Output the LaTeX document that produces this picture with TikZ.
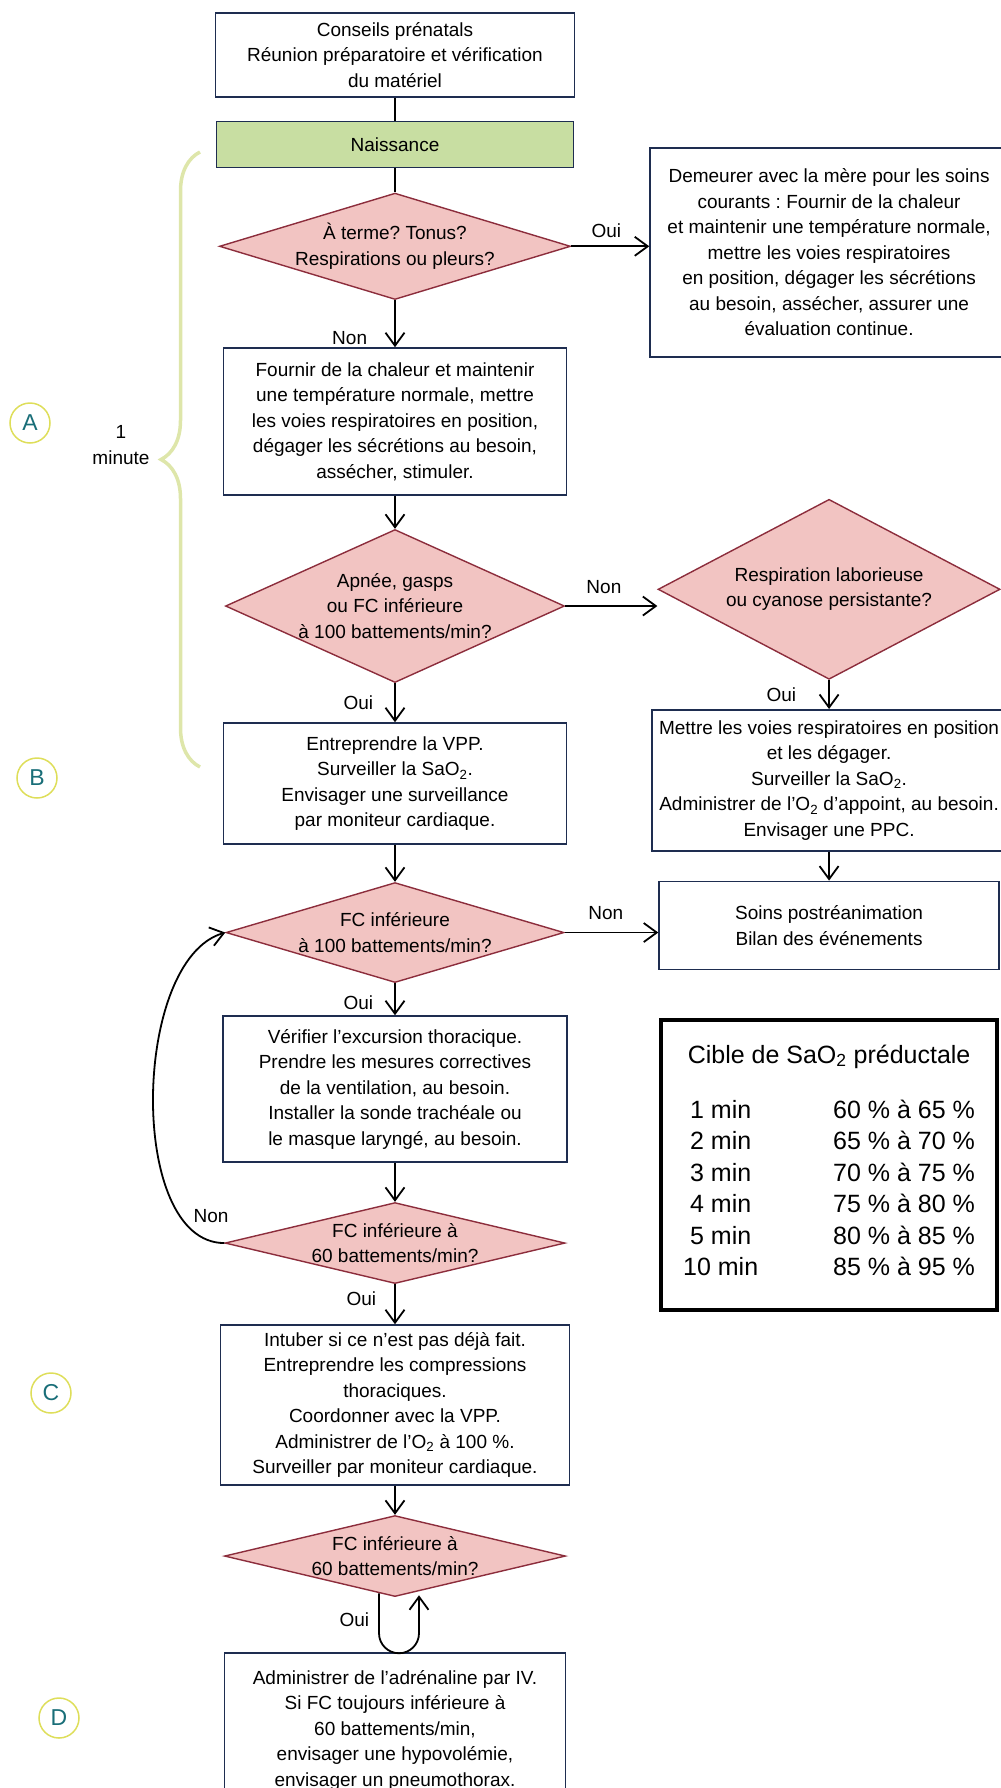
\documentclass[tikz,border=0pt]{standalone}
\usepackage{fontspec}
\setmainfont{Liberation Sans}
\usetikzlibrary{shapes.geometric, positioning, arrows.meta, decorations.pathreplacing}
\frenchspacing

\definecolor{boxline}{RGB}{30,45,80}
\definecolor{birthgreen}{RGB}{200,222,162}
\definecolor{qpink}{RGB}{242,196,194}
\definecolor{qline}{RGB}{140,45,60}
\definecolor{markring}{RGB}{222,222,90}
\definecolor{markteal}{RGB}{25,110,120}
\definecolor{bracegreen}{RGB}{222,230,170}

\begin{document}
\begin{tikzpicture}[
    x=1pt, y=1pt,
    txt/.style={font=\fontsize{19}{25.5}\selectfont},
    box/.style={txt, rectangle, draw=boxline, line width=1.6pt, align=center, inner sep=4pt, fill=white},
    decision/.style={txt, diamond, draw=qline, fill=qpink, line width=1.4pt, align=center, inner sep=0pt},
    arrow/.style={-{Straight Barb[length=13pt, width=19pt]}, line width=1.8pt},
    line/.style={line width=1.8pt},
    label_txt/.style={txt, inner sep=2pt},
    letter_mark/.style={circle, draw=markring, line width=1.5pt, minimum size=40pt, inner sep=0pt, text=markteal, font=\fontsize{23}{23}\selectfont},
    brace_line/.style={draw=bracegreen, line width=3.5pt, decorate, decoration={brace, amplitude=39pt}},
    table_box/.style={rectangle, draw=black, line width=3.5pt, align=center, font=\fontsize{25}{31.5}\selectfont},
]
\useasboundingbox (0,0) rectangle (1001,-1788);

%% NODES
    % main column
    \node[box, minimum width=359pt, minimum height=84pt] (prenatal) at (395,-55) {Conseils prénatals\\Réunion préparatoire et vérification\\du matériel};
    \node[box, fill=birthgreen, minimum width=357pt, minimum height=46pt, below=23pt of prenatal] (birth) {Naissance};
    \node[decision, minimum width=339pt, minimum height=103pt, aspect=3.3, below=24pt of birth] (term_q) {À terme? Tonus?\\Respirations ou pleurs?};
    \node[box, minimum width=343pt, minimum height=147pt, below=47pt of term_q] (warm_box) {Fournir de la chaleur et maintenir\\une température normale, mettre\\les voies respiratoires en position,\\dégager les sécrétions au besoin,\\assécher, stimuler.};
    \node[decision, minimum width=339pt, minimum height=153pt, aspect=2.2, below=33pt of warm_box] (apnea_q) {Apnée, gasps\\ou FC inférieure\\à 100 battements/min?};
    \node[box, minimum width=343pt, minimum height=121pt, below=39pt of apnea_q] (ppv_box) {Entreprendre la VPP.\\Surveiller la SaO\textsubscript{2}.\\Envisager une surveillance\\par moniteur cardiaque.};
    \node[decision, minimum width=338pt, minimum height=100pt, aspect=3.38, below=37pt of ppv_box] (hr100_q) {FC inférieure\\à 100 battements/min?};
    \node[box, minimum width=344pt, minimum height=146pt, below=32pt of hr100_q] (vent_box) {Vérifier l’excursion thoracique.\\Prendre les mesures correctives\\de la ventilation, au besoin.\\Installer la sonde trachéale ou\\le masque laryngé, au besoin.};
    \node[decision, minimum width=340pt, minimum height=81pt, aspect=4.2, below=39pt of vent_box] (hr60_q) {FC inférieure à\\60 battements/min?};
    \node[box, minimum width=349pt, minimum height=160pt, below=40pt of hr60_q] (cpr_box) {Intuber si ce n’est pas déjà fait.\\Entreprendre les compressions\\thoraciques.\\Coordonner avec la VPP.\\Administrer de l’O\textsubscript{2} à 100~\%.\\Surveiller par moniteur cardiaque.};
    \node[decision, minimum width=341pt, minimum height=81pt, aspect=4.2, below=29pt of cpr_box] (hr60b_q) {FC inférieure à\\60 battements/min?};
    \node[box, minimum width=341pt, minimum height=154pt, below=55pt of hr60b_q] (epi_box) {Administrer de l’adrénaline par IV.\\Si FC toujours inférieure à\\60 battements/min,\\envisager une hypovolémie,\\envisager un pneumothorax.};

    % right column
    \node[box, minimum width=358pt, minimum height=209pt, right=78pt of term_q, yshift=-6pt] (routine_care) {Demeurer avec la mère pour les soins\\courants : Fournir de la chaleur\\et maintenir une température normale,\\mettre les voies respiratoires\\en position, dégager les sécrétions\\au besoin, assécher, assurer une\\évaluation continue.};
    \node[decision, minimum width=342pt, minimum height=180pt, aspect=1.9, below=141pt of routine_care] (laboured_q) {Respiration laborieuse\\ou cyanose persistante?};
    \node[box, minimum width=354pt, minimum height=141pt, below=29pt of laboured_q] (airway_box) {Mettre les voies respiratoires en position\\et les dégager.\\Surveiller la SaO\textsubscript{2}.\\Administrer de l’O\textsubscript{2} d’appoint, au besoin.\\Envisager une PPC.};
    \node[box, minimum width=340pt, minimum height=88pt, below=29pt of airway_box] (post_box) {Soins postréanimation\\Bilan des événements};
    \node[table_box, minimum width=336pt, minimum height=290pt, below=48pt of post_box] (target_table) {%
        Cible de SaO\textsubscript{2} préductale\\[23.5pt]
        \begin{tabular}[t]{@{}c@{\hspace{75pt}}c@{}}
            1 min & 60 \% à 65 \%\\
            2 min & 65 \% à 70 \%\\
            3 min & 70 \% à 75 \%\\
            4 min & 75 \% à 80 \%\\
            5 min & 80 \% à 85 \%\\
            10 min & 85 \% à 95 \%
        \end{tabular}};

    % left margin
    \node[letter_mark] (mark_a) at (30,-423) {A};
    \node[letter_mark] (mark_b) at (37,-778) {B};
    \node[letter_mark] (mark_c) at (51,-1393) {C};
    \node[letter_mark] (mark_d) at (59,-1718) {D};
    \node[txt, align=center] (minute_txt) at (121,-445) {1\\minute};
    \draw[brace_line] (200,-767) -- (200,-152);

%% EDGES
    \draw[line] (prenatal) -- (birth);
    \draw[line] (birth) -- (term_q);
    \draw[arrow] (term_q.east) -- node[label_txt, above=6pt, pos=0.45] {Oui} (term_q.east -| routine_care.west);
    \draw[arrow] (term_q) -- node[label_txt, left=25pt, pos=0.8] {Non} (warm_box);
    \draw[arrow] (warm_box) -- (apnea_q);
    \draw[arrow] (apnea_q.east) -- node[label_txt, above=9pt, pos=0.42] {Non} (apnea_q.east -| laboured_q.west);
    \draw[arrow] (apnea_q) -- node[label_txt, left=19pt, pos=0.5] {Oui} (ppv_box);
    \draw[arrow] (laboured_q) -- node[label_txt, left=30pt, pos=0.5] {Oui} (airway_box);
    \draw[arrow] (ppv_box) -- (hr100_q);
    \draw[arrow] (airway_box) -- (post_box);
    \draw[arrow] (hr100_q.east) -- node[label_txt, above=10pt, pos=0.44] {Non} (hr100_q.east -| post_box.west);
    \draw[arrow] (hr100_q) -- node[label_txt, left=19pt, pos=0.6] {Oui} (vent_box);
    \draw[arrow] (vent_box) -- (hr60_q);
    \draw[arrow] (hr60_q.west) to[out=180, in=196, looseness=0.8] node[label_txt, pos=0, above left=17pt and -7pt] {Non} (hr100_q.west);
    \draw[arrow] (hr60_q) -- node[label_txt, left=16pt, pos=0.35] {Oui} (cpr_box);
    \draw[arrow] (cpr_box) -- (hr60b_q);
    \draw[arrow] (hr60b_q.south) ++(-16,4) -- node[label_txt, left=7pt, pos=0.65] {Oui} ++(0,-40) arc[start angle=180, end angle=360, radius=20] -- ++(0,38);

\end{tikzpicture}
\end{document}
